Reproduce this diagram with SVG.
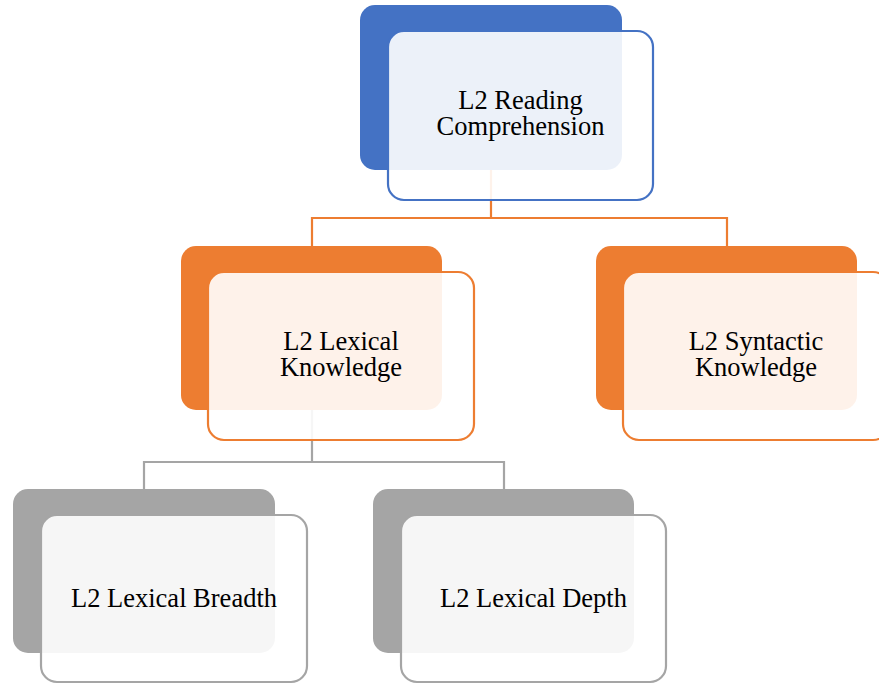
<svg xmlns="http://www.w3.org/2000/svg" width="879" height="684" viewBox="0 0 879 684">
<style>
.bk{stroke:none}
.fr{fill:#ffffff;fill-opacity:0.9;stroke-width:2.2}
.blue .bk{fill:#4472C4}.blue .fr{stroke:#4472C4}
.orng .bk{fill:#ED7D31}.orng .fr{stroke:#ED7D31}
.gray .bk{fill:#A5A5A5}.gray .fr{stroke:#A5A5A5}
text{font-family:"Liberation Serif","Times New Roman",serif;font-size:26.5px;fill:#000;text-anchor:middle}
.c{fill:none;stroke-width:2.2}
</style>
<rect width="879" height="684" fill="#fff"/>
<g id="connectors">
<path class="c" stroke="#ED7D31" d="M491 170V218M312 246V218H727V246"/>
<path class="c" stroke="#A5A5A5" d="M312 410V462M144 489V462H504V489"/>
</g>
<g id="n-reading" class="blue">
<rect class="bk" x="360" y="5" width="262" height="165" rx="15"/>
<rect class="fr" x="388" y="31" width="265" height="169" rx="16"/>
<text x="520.5" y="109">L2 Reading</text>
<text x="520.5" y="135">Comprehension</text>
</g>
<g id="n-lexical" class="orng">
<rect class="bk" x="181" y="246" width="261" height="164" rx="15"/>
<rect class="fr" x="208" y="272" width="266" height="168" rx="16"/>
<text x="341" y="350">L2 Lexical</text>
<text x="341" y="376">Knowledge</text>
</g>
<g id="n-syntactic" class="orng">
<rect class="bk" x="596" y="246" width="261" height="164" rx="15"/>
<rect class="fr" x="623" y="272" width="266" height="168" rx="16"/>
<text x="756" y="350">L2 Syntactic</text>
<text x="756" y="376">Knowledge</text>
</g>
<g id="n-breadth" class="gray">
<rect class="bk" x="13" y="489" width="262" height="164" rx="15"/>
<rect class="fr" x="41" y="515" width="266" height="167" rx="16"/>
<text x="174" y="607">L2 Lexical Breadth</text>
</g>
<g id="n-depth" class="gray">
<rect class="bk" x="373" y="489" width="261" height="164" rx="15"/>
<rect class="fr" x="401" y="515" width="265" height="167" rx="16"/>
<text x="533.5" y="607">L2 Lexical Depth</text>
</g>
</svg>
